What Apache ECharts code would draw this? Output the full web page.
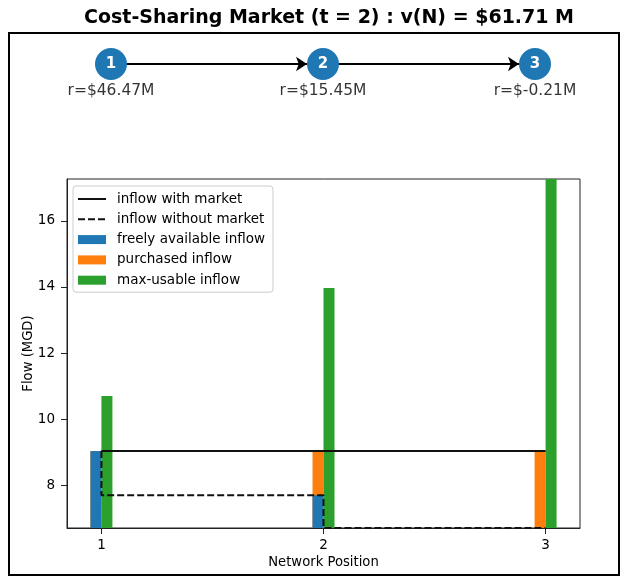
<!DOCTYPE html>
<html>
<head>
<meta charset="utf-8">
<script src="https://cdn.jsdelivr.net/npm/echarts@6/dist/echarts.min.js"></script>
<style>
  html, body { margin: 0; padding: 0; background: #fff; }
  #chart { width: 625px; height: 576px; }
</style>
</head>
<body>
<div id="chart"></div>
<script>
  // network positions and per-node values
  const positions = [1, 2, 3];
  const nodeNames = ['1', '2', '3'];
  const returnLabels = ['r=$46.47M', 'r=$15.45M', 'r=$-0.21M'];

  // flows (MGD)
  const freeInflow = [9.03, 7.69, 0];
  const purchasedInflow = [0, 1.34, 9.03];
  const maxUsableInflow = [10.70, 13.97, 17.27];
  const inflowWithMarket = [9.03, 9.03, 9.03];
  const inflowWithoutMarket = [9.03, 7.69, 6.70];

  const yTicks = [8, 10, 12, 14, 16];
  const xTicks = [1, 2, 3];

  const pair = (ys) => positions.map((p, i) => [p, ys[i]]);
  // purchased sits on top of the free inflow
  const purchasedTop = freeInflow.map((v, i) => v + purchasedInflow[i]);
  const font = 'DejaVu Sans';

  var mychart = echarts.init(document.getElementById('chart'));
  let option = {
    animation: false,
    textStyle: { fontFamily: font },
    title: {
      text: 'Cost-Sharing Market (t = 2) : v(N) = $61.71 M',
      left: 79,
      top: 4,
      textStyle: { fontFamily: font, fontSize: 19, fontWeight: 'bold', color: '#000' }
    },
    graphic: [{
      type: 'rect',
      shape: { x: 9, y: 33, width: 610, height: 542 },
      style: { fill: 'none', stroke: '#000', lineWidth: 2 },
      silent: true
    }],
    legend: {
      orient: 'vertical',
      left: 73,
      top: 186,
      itemWidth: 28,
      itemHeight: 9,
      itemGap: 6.3,
      padding: [6, 8, 5, 4],
      backgroundColor: 'rgba(255,255,255,0.8)',
      borderColor: '#ccc',
      borderWidth: 1,
      borderRadius: 3,
      textStyle: { fontFamily: font, fontSize: 13.5, color: '#000', padding: [0, 0, 0, 6] },
      data: [
        { name: 'inflow with market', itemStyle: { opacity: 0 } },
        { name: 'inflow without market', itemStyle: { opacity: 0 } },
        { name: 'freely available inflow', icon: 'rect' },
        { name: 'purchased inflow', icon: 'rect' },
        { name: 'max-usable inflow', icon: 'rect' }
      ]
    },
    grid: [
      { left: 67, right: 45, top: 179, bottom: 48, show: true, borderColor: '#222', borderWidth: 1 },
      { left: 111, width: 424, top: 54, height: 20 }
    ],
    xAxis: [{
      gridIndex: 0,
      type: 'value',
      min: 0.845,
      max: 3.155,
      name: 'Network Position',
      nameLocation: 'middle',
      nameGap: 28,
      nameMoveOverlap: false,
      nameTextStyle: { fontFamily: font, fontSize: 13.2, color: '#000' },
      axisLine: { show: true, onZero: false, lineStyle: { color: '#222' } },
      axisTick: { show: true, length: 6, lineStyle: { color: '#222' }, customValues: xTicks },
      axisLabel: { fontFamily: font, fontSize: 13.5, color: '#000', margin: 10, customValues: xTicks },
      splitLine: { show: false }
    }, {
      gridIndex: 1, type: 'value', min: 1, max: 3, show: false
    }],
    yAxis: [{
      gridIndex: 0,
      type: 'value',
      min: 6.70,
      max: 17.27,
      name: 'Flow (MGD)',
      nameLocation: 'middle',
      nameGap: 32,
      nameMoveOverlap: false,
      nameTextStyle: { fontFamily: font, fontSize: 13.2, color: '#000' },
      axisLine: { show: true, onZero: false, lineStyle: { color: '#222' } },
      axisTick: { show: true, length: 6, lineStyle: { color: '#222' }, customValues: yTicks },
      axisLabel: { fontFamily: font, fontSize: 13.5, color: '#000', margin: 12, customValues: yTicks },
      splitLine: { show: false }
    }, {
      gridIndex: 1, type: 'value', min: -1, max: 1, show: false
    }],
    series: [
      {
        name: 'purchased inflow',
        type: 'bar',
        stack: 'inflow',
        barWidth: 11,
        barGap: '0%',
        itemStyle: { color: '#ff7f0e' },
        data: pair(purchasedTop)
      },
      {
        name: 'freely available inflow',
        type: 'bar',
        stack: 'inflow',
        barWidth: 11,
        barGap: '0%',
        itemStyle: { color: '#1f77b4' },
        data: pair(freeInflow)
      },
      {
        name: 'max-usable inflow',
        type: 'bar',
        barWidth: 11,
        barGap: '0%',
        itemStyle: { color: '#2ca02c' },
        data: pair(maxUsableInflow)
      },
      {
        name: 'inflow with market',
        type: 'line',
        step: 'start',
        symbol: 'none',
        z: 5,
        lineStyle: { color: '#111', width: 2 },
        itemStyle: { color: '#111' },
        data: pair(inflowWithMarket)
      },
      {
        name: 'inflow without market',
        type: 'line',
        step: 'start',
        symbol: 'none',
        z: 5,
        lineStyle: { color: '#111', width: 2, type: [7, 3] },
        itemStyle: { color: '#111' },
        data: pair(inflowWithoutMarket)
      },
      {
        // network diagram
        type: 'graph',
        coordinateSystem: 'cartesian2d',
        xAxisIndex: 1,
        yAxisIndex: 1,
        symbolSize: 32,
        itemStyle: { color: '#1f77b4' },
        label: { show: true, position: 'inside', color: '#fff', fontWeight: 'bold', fontSize: 15, fontFamily: font },
        edgeSymbol: ['none', 'arrow'],
        edgeSymbolSize: 11,
        lineStyle: { color: '#000', width: 2, opacity: 1, curveness: 0 },
        data: positions.map((p, i) => ({ name: nodeNames[i], value: [p, 0] })),
        links: positions.slice(1).map((p, i) => ({ source: i, target: i + 1 }))
      },
      {
        type: 'scatter',
        xAxisIndex: 1,
        yAxisIndex: 1,
        symbolSize: 32,
        itemStyle: { color: 'transparent' },
        label: {
          show: true,
          position: 'bottom',
          distance: 3,
          fontFamily: font,
          fontSize: 15.5,
          color: '#000',
          formatter: (p) => returnLabels[p.dataIndex]
        },
        data: positions.map((p) => [p, 0])
      }
    ]
  };
  mychart.setOption(option);
</script>
</body>
</html>
